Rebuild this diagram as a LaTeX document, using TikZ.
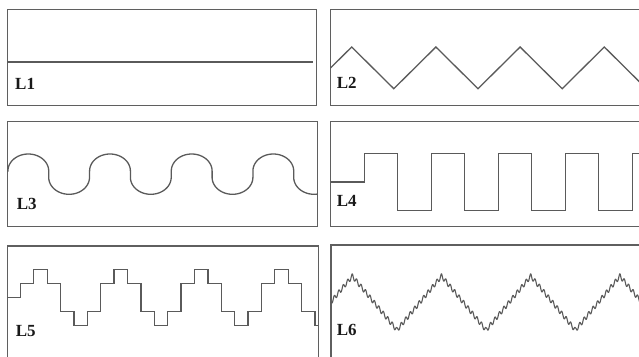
\documentclass[tikz,border=0pt]{standalone}
\usepackage{fontspec}
\setmainfont{Liberation Serif}
\definecolor{framec}{RGB}{95,95,95}
\definecolor{wavec}{RGB}{90,90,90}
\begin{document}
\begin{tikzpicture}[x=1pt,y=-1pt,
  panel/.style={draw=framec,line width=1.4pt},
  wave/.style={draw=wavec,line width=1.3pt,line join=miter},
  lab/.style={anchor=base west,inner sep=0pt,font=\fontsize{17}{20}\selectfont\bfseries,text=black!90}]
\useasboundingbox (0,0) rectangle (639,356);
\clip (0,0) rectangle (639,356);

% panel frames
\draw[panel] (7.3,9.5) rectangle (316.7,105.5);
\draw[panel] (330.5,9.5) rectangle (660,105.5);
\draw[panel] (7.3,121.5) rectangle (317.7,226.5);
\draw[panel] (330.7,121.5) rectangle (660,226.5);
\draw[panel] (7.3,246) rectangle (318.3,370);
\draw[panel] (331,245) rectangle (660,370);

% L1: constant
\coordinate (l1a) at (7.3,62);
\coordinate (l1b) at (312.7,62);
\draw[wave] (l1a) -- (l1b);

% L2: triangle
\draw[wave] (330.5,68) -- (351.7,47) -- (393.8,88.7) -- (435.9,47) -- (478,88.7)
  -- (520.1,47) -- (562.2,88.7) -- (604.3,47) -- (646.4,88.7);

% L3: rounded wave
\begin{scope}
\clip (7.3,121.5) rectangle (317.7,226.5);
\draw[wave] (7.3,171)
  \foreach \c in {28.3,110,191.7,273.3}{
    -- plot[domain=180:0,samples=40] ({\c+20.4*cos(\x)},{171-17*sin(\x)})
    -- ({\c+20.4},177.3)
    -- plot[domain=180:0,samples=40] ({\c+40.8+20.4*cos(\x)},{177.3+17*sin(\x)})
    -- ({\c+61.2},171)
  };
\end{scope}

% L4: square wave
\draw[wave] (330.7,182) -| (364.3,153.7) -| (397.8,210.7) -| (431.3,153.7)
  -| (464.8,210.7) -| (498.3,153.7) -| (531.8,210.7) -| (565.3,153.7)
  -| (598.8,210.7) -| (632.3,153.7) -- (650,153.7);

% L5: staircase
\draw[wave] (7.3,297.3) -| (20.41,283.3) -| (33.8,269.3) -| (47.19,283.3)
  -| (60.58,311.3) -| (73.97,325.3) -| (87.36,311.3) -| (100.75,283.3)
  -| (114.14,269.3) -| (127.53,283.3) -| (140.92,311.3) -| (154.31,325.3)
  -| (167.70,311.3) -| (181.09,283.3) -| (194.48,269.3) -| (207.87,283.3)
  -| (221.26,311.3) -| (234.65,325.3) -| (248.04,311.3) -| (261.43,283.3)
  -| (274.82,269.3) -| (288.21,283.3) -| (301.60,311.3) -| (314.99,325.3)
  -- (318.3,325.3);

% L6: triangle with ripple
\draw[wave,line width=1.1pt,line join=round] plot[domain=331:640,samples=1000]
  ({\x},{303.1-27*asin(0.99999*sin((\x-352.3)/89.23*360+90))/90
        +2.4*sin(mod(\x-331,4.46)/4.46*360)});

% labels
\node[lab] (t1) at (15,89.3) {L1};
\node[lab] (t2) at (336.7,88.3) {L2};
\node[lab] (t3) at (16.7,209.5) {L3};
\node[lab] (t4) at (336.7,206.3) {L4};
\node[lab] (t5) at (15.7,336.5) {L5};
\node[lab] (t6) at (336.7,335.2) {L6};
\end{tikzpicture}
\end{document}
